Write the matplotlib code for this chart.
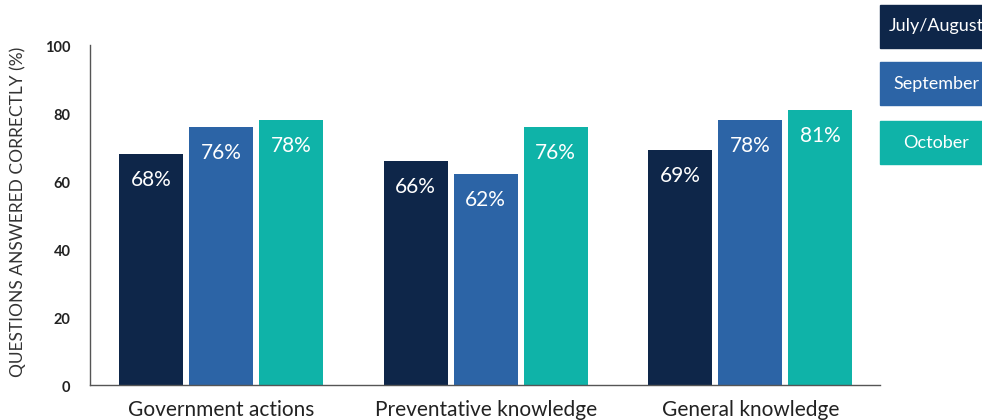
import matplotlib
matplotlib.use("Agg")
import matplotlib.pyplot as plt
import numpy as np
from matplotlib.patches import Rectangle
import matplotlib.transforms as mtransforms

categories = ["Government actions", "Preventative knowledge", "General knowledge"]
series_names = ["July/August", "September", "October"]
values = {
    "July/August": [68, 66, 69],
    "September": [76, 62, 78],
    "October": [78, 76, 81],
}
yticks = [0, 20, 40, 60, 80, 100]
colors = ["#0E2649", "#2C64A6", "#0FB3A8"]

plt.rcParams['font.family'] = ['Lato', 'DejaVu Sans']

fig = plt.figure(figsize=(9.82, 4.2), dpi=100)
ax = fig.add_axes([90/982, 35/420, (880-90)/982, (385-45)/420])

x = np.arange(len(categories))
width = 0.242
offset = 0.265
for i, name in enumerate(series_names):
    bars = ax.bar(x + (i-1)*offset, values[name], width=width, color=colors[i])
    for b, v in zip(bars, values[name]):
        ax.annotate(f"{v}%", (b.get_x() + b.get_width()/2, b.get_height()),
                    xytext=(0, -26), textcoords="offset pixels",
                    ha="center", va="center", color="white", fontsize=15)

ax.set_xlim(-0.495, 2.49)
ax.set_ylim(0, 100)
ax.set_xticks(x)
ax.set_xticklabels(categories, fontsize=15, color="#222222")
ax.set_yticks(yticks)
ax.set_yticklabels([str(t) for t in yticks], fontsize=10.5, color="#222222", fontweight="bold")
ax.tick_params(axis="both", length=0)
ax.tick_params(axis="x", pad=11)
ax.tick_params(axis="y", pad=14)
shift = mtransforms.ScaledTranslation(0, -3/100, fig.dpi_scale_trans)
for lab in ax.get_yticklabels():
    lab.set_verticalalignment("center")
    lab.set_transform(lab.get_transform() + shift)
for s in ["top", "right"]:
    ax.spines[s].set_visible(False)
for s in ["left", "bottom"]:
    ax.spines[s].set_color("#555555")
    ax.spines[s].set_linewidth(1.0)

fig.text(18/982, 1 - 212/420, "QUESTIONS ANSWERED CORRECTLY (%)", rotation=90,
         ha="center", va="center", fontsize=12.5, color="#333333")

# legend boxes
box_tops = [5, 62, 121]
for name, c, top in zip(series_names, colors, box_tops):
    h = 43
    fig.add_artist(Rectangle((880/982, 1 - (top + h)/420), 120/982, h/420,
                             transform=fig.transFigure, color=c, clip_on=False))
    fig.text(936/982, 1 - (top + h/2)/420, name, ha="center", va="center",
             color="white", fontsize=13)

fig.savefig("out.png", dpi=100)
